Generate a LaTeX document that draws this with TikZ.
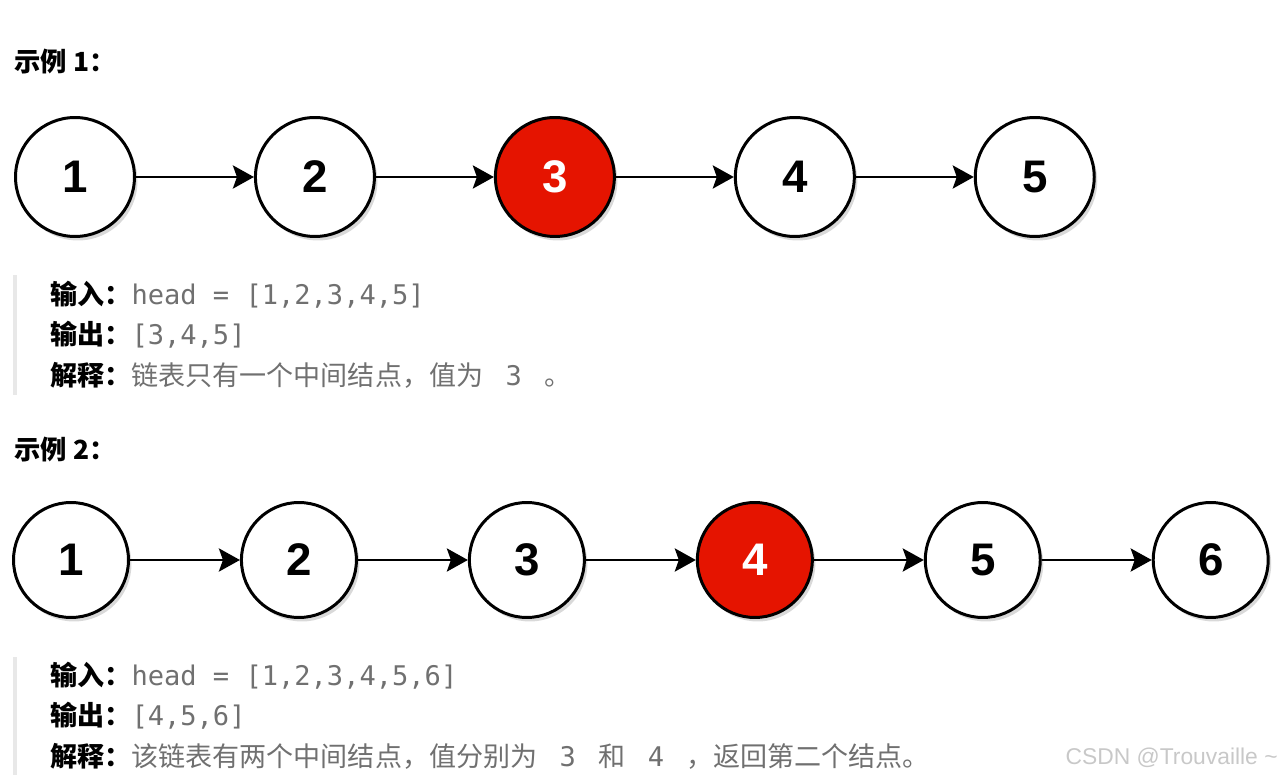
\documentclass[tikz,border=0pt]{standalone}
\usepackage{fontspec}
\setmainfont{Noto Sans CJK SC}
\setmonofont{DejaVu Sans Mono}
\newfontfamily\arialfont{Liberation Sans}
\usepackage{xcolor}
\usetikzlibrary{arrows.meta,positioning,shadows}

\definecolor{nodered}{HTML}{E51400}
\definecolor{textgray}{HTML}{707070}
\definecolor{bargray}{HTML}{E8E8E8}
\definecolor{markgray}{HTML}{C8C8C8}

\newcommand{\lbl}[1]{{\color{black}\bfseries #1}}

\begin{document}
\begin{tikzpicture}[
  x=0.02cm, y=-0.02cm,
  node distance=2.36cm,
  listnode/.style={circle, draw, line width=1.7pt, minimum size=2.38cm, inner sep=0pt, fill=white,
    font=\arialfont\bfseries\fontsize{26}{26}\selectfont,
    drop shadow={shadow xshift=0.06cm, shadow yshift=-0.08cm, opacity=0.3}},
  midnode/.style={listnode, fill=nodered, text=white},
  small/.style={minimum size=2.3cm},
  link/.style={-{Stealth[length=0.42cm, width=0.46cm, inset=0.08cm]}, line width=1.7pt},
  title/.style={anchor=west, inner sep=0pt, font=\bfseries\fontsize{15}{15}\selectfont},
  info/.style={anchor=west, inner sep=0pt, text=textgray, font=\fontsize{15.4}{15.4}\selectfont},
  bar/.style={fill=bargray}
]
\useasboundingbox (0,0) rectangle (1282,780);

% example 1
\node[title] (t1) at (14,62) {示例 1：};
\node[listnode] (a1) at (75,177) {1};
\node[listnode, right=of a1] (a2) {2};
\node[midnode, right=of a2] (a3) {3};
\node[listnode, right=of a3] (a4) {4};
\node[listnode, right=of a4] (a5) {5};

\foreach \i/\j in {1/2,2/3,3/4,4/5}
  \draw[link] (a\i) -- (a\j);

\fill[bar] (13,275) rectangle (17,395);
\node[info] (in1) at (50,295) {\lbl{输入：}\texttt{head = [1,2,3,4,5]}};
\node[info] (out1) at (50,335) {\lbl{输出：}\texttt{[3,4,5]}};
\node[info] (ex1) at (50,375) {\lbl{解释：}链表只有一个中间结点，值为 \texttt{ 3 } 。};

% example 2
\node[title] (t2) at (14,450) {示例 2：};
\node[listnode, small] (b1) at (71,560) {1};
\node[listnode, small, right=2.2cm of b1] (b2) {2};
\node[listnode, small, right=2.2cm of b2] (b3) {3};
\node[midnode, small, right=2.2cm of b3] (b4) {4};
\node[listnode, small, right=2.2cm of b4] (b5) {5};
\node[listnode, small, right=2.2cm of b5] (b6) {6};

\foreach \i/\j in {1/2,2/3,3/4,4/5,5/6}
  \draw[link] (b\i) -- (b\j);

\fill[bar] (13,657) rectangle (17,775);
\node[info] (in2) at (50,676) {\lbl{输入：}\texttt{head = [1,2,3,4,5,6]}};
\node[info] (out2) at (50,716) {\lbl{输出：}\texttt{[4,5,6]}};
\node[info] (ex2) at (50,756) {\lbl{解释：}该链表有两个中间结点，值分别为 \texttt{ 3 } 和 \texttt{ 4 } ，返回第二个结点。};

\node[anchor=east, inner sep=0pt, text=markgray, font=\arialfont\fontsize{13}{13}\selectfont] (mark) at (1278,758) {CSDN @Trouvaille \textasciitilde};
\end{tikzpicture}
\end{document}
